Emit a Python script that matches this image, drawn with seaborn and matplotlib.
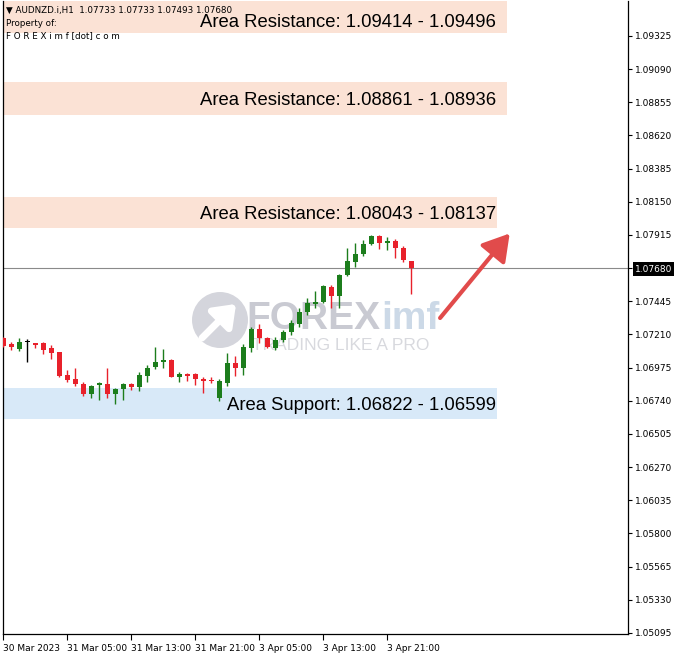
import matplotlib
matplotlib.use("Agg")
import matplotlib.pyplot as plt
import seaborn as sns
import pandas as pd
from matplotlib.patches import Ellipse

# ---------------- data ----------------
bar_index = list(range(52))
opens = [1.07184, 1.07142, 1.07106, 1.07156, 1.07149, 1.07149, 1.07113, 1.07085, 1.06922, 1.06894,
         1.06858, 1.06787, 1.06851, 1.06858, 1.06787, 1.06823, 1.06858, 1.06837, 1.06915, 1.06979,
         1.07014, 1.07028, 1.06908, 1.06929, 1.06929, 1.06894, 1.06890, 1.06759, 1.06865, 1.07007,
         1.06971, 1.07113, 1.07248, 1.07184, 1.07113, 1.07170, 1.07227, 1.07283, 1.07368, 1.07425,
         1.07439, 1.07545, 1.07482, 1.07630, 1.07723, 1.07779, 1.07850, 1.07907, 1.07857, 1.07871,
         1.07822, 1.07733]
closes = [1.07127, 1.07120, 1.07156, 1.07156, 1.07134, 1.07099, 1.07078, 1.06915, 1.06886, 1.06858,
          1.06787, 1.06844, 1.06865, 1.06787, 1.06823, 1.06858, 1.06837, 1.06922, 1.06971, 1.07014,
          1.07028, 1.06908, 1.06929, 1.06915, 1.06894, 1.06879, 1.06879, 1.06879, 1.07007, 1.06971,
          1.07120, 1.07248, 1.07184, 1.07120, 1.07170, 1.07227, 1.07290, 1.07368, 1.07432, 1.07439,
          1.07552, 1.07482, 1.07630, 1.07730, 1.07779, 1.07850, 1.07907, 1.07857, 1.07871, 1.07822,
          1.07737, 1.07680]
highs = [1.07191, 1.07156, 1.07184, 1.07177, 1.07149, 1.07156, 1.07134, 1.07085, 1.06957, 1.06971,
         1.06872, 1.06851, 1.06872, 1.06971, 1.06830, 1.06865, 1.06865, 1.06943, 1.06993, 1.07120,
         1.07106, 1.07035, 1.06943, 1.06936, 1.06936, 1.06908, 1.06908, 1.06894, 1.07078, 1.07057,
         1.07142, 1.07262, 1.07283, 1.07191, 1.07191, 1.07241, 1.07312, 1.07397, 1.07467, 1.07517,
         1.07560, 1.07560, 1.07637, 1.07822, 1.07857, 1.07878, 1.07914, 1.07914, 1.07900, 1.07885,
         1.07836, 1.07733]
lows = [1.07120, 1.07099, 1.07092, 1.07014, 1.07113, 1.07071, 1.07035, 1.06908, 1.06872, 1.06844,
        1.06773, 1.06759, 1.06745, 1.06759, 1.06716, 1.06745, 1.06816, 1.06809, 1.06872, 1.06964,
        1.06971, 1.06905, 1.06872, 1.06879, 1.06851, 1.06794, 1.06865, 1.06738, 1.06844, 1.06915,
        1.06922, 1.07085, 1.07149, 1.07113, 1.07099, 1.07156, 1.07205, 1.07262, 1.07347, 1.07397,
        1.07432, 1.07397, 1.07397, 1.07623, 1.07687, 1.07765, 1.07843, 1.07815, 1.07808, 1.07751,
        1.07723, 1.07493]

xtick_pos = [0, 8, 16, 24, 32, 40, 48]
xtick_labels = ["30 Mar 2023", "31 Mar 05:00", "31 Mar 13:00", "31 Mar 21:00",
                "3 Apr 05:00", "3 Apr 13:00", "3 Apr 21:00"]
ytick_values = [1.05095, 1.05330, 1.05565, 1.05800, 1.06035, 1.06270, 1.06505, 1.06740,
                1.06975, 1.07210, 1.07445, 1.07680, 1.07915, 1.08150, 1.08385, 1.08620,
                1.08855, 1.09090, 1.09325]
current_price = 1.07680

zone_labels = ["Area Resistance: 1.09414 - 1.09496", "Area Resistance: 1.08861 - 1.08936",
               "Area Resistance: 1.08043 - 1.08137", "Area Support: 1.06822 - 1.06599"]
zone_low = [1.09345, 1.08764, 1.07963, 1.06610]
zone_high = [1.09580, 1.08998, 1.08183, 1.06830]
zone_text_y = [1.09420, 1.08870, 1.08060, 1.06705]
zone_right = [63.0, 63.0, 61.7, 61.7]
zone_kind = ["res", "res", "res", "sup"]

header_lines = ["\u25BC AUDNZD.i,H1  1.07733 1.07733 1.07493 1.07680",
                "Property of:",
                "F O R E X i m f [dot] c o m"]

# ---------------- style ----------------
sns.set_theme(style="white")
plt.rcParams["font.family"] = ["DejaVu Sans"]

W, H = 674, 656
fig = plt.figure(figsize=(W / 100, H / 100), dpi=100)
fig.patch.set_facecolor("white")
ax = fig.add_axes([3 / W, 1 - 634 / H, 625 / W, 633 / H])
ax.set_facecolor("white")

def fx(x):
    return x / W

def fy(y):
    return 1 - y / H

df = pd.DataFrame({"i": bar_index, "o": opens, "h": highs, "l": lows, "c": closes})
GREEN, RED, BLACK = "#1c7d1c", "#e8212b", "#000000"
def col(r):
    if r.c > r.o:
        return GREEN
    if r.c < r.o:
        return RED
    return BLACK
df["color"] = df.apply(col, axis=1)
df["bottom"] = df[["o", "c"]].min(axis=1)
df["height"] = (df["c"] - df["o"]).abs().clip(lower=0.00005)

# zones
zone_colors = {"res": "#fbe2d5", "sup": "#d8e9f8"}
for lo, hi, ty, xr, kind, lab in zip(zone_low, zone_high, zone_text_y, zone_right,
                                      zone_kind, zone_labels):
    ax.fill_between([-1, xr], lo, hi, color=zone_colors[kind], lw=0, zorder=1)
    ax.text(61.6, ty, lab, ha="right", va="center", fontsize=13.3,
            family=["Liberation Sans", "DejaVu Sans"], color="black", zorder=6)

# watermark
logo = Ellipse((fx(220), fy(320)), 56 / W, 56 / H, transform=fig.transFigure,
               facecolor="#cdced6", edgecolor="none", alpha=0.85, zorder=0.5)
ax.add_artist(logo)
ax.annotate("", xy=(fx(238), fy(302)), xytext=(fx(200), fy(340)),
            xycoords=fig.transFigure, textcoords=fig.transFigure,
            arrowprops=dict(arrowstyle="-|>,head_length=0.6,head_width=0.45",
                            color="white", lw=5, mutation_scale=20), zorder=0.6)
ax.text(fx(246), fy(319), "FOREX", transform=fig.transFigure, ha="left", va="center",
        fontsize=28, fontweight="bold", family=["Liberation Sans", "DejaVu Sans"],
        color="#c9cad2", zorder=0.5)
ax.text(fx(381), fy(319), "imf", transform=fig.transFigure, ha="left", va="center",
        fontsize=28, fontweight="bold", family=["Liberation Sans", "DejaVu Sans"],
        color="#ccd9e7", zorder=0.5)
ax.text(fx(252), fy(345), "TRADING LIKE A PRO", transform=fig.transFigure, ha="left",
        va="center", fontsize=12.5, family=["Liberation Sans", "DejaVu Sans"],
        color="#d8d9de", zorder=0.5)

# current price line
ax.axhline(current_price, color="#8a8a8a", lw=0.8, zorder=2)

# candles
ax.vlines(df["i"], df["l"], df["h"], colors=df["color"], lw=1.0, zorder=3)
ax.bar(df["i"], df["height"], bottom=df["bottom"], width=0.62, color=df["color"],
       linewidth=0, zorder=4)

# red arrow
ax.annotate("", xy=(63.3, 1.07925), xytext=(54.6, 1.07326),
            arrowprops=dict(arrowstyle="-|>,head_length=1.0,head_width=0.6",
                            color="#e14b4b", lw=3, mutation_scale=16,
                            shrinkA=0, shrinkB=0), zorder=5)

# axes
ax.set_xlim(-0.04, 78.09)
ax.set_ylim(1.05087, 1.09572)
ax.yaxis.tick_right()
ax.set_yticks(ytick_values)
ax.set_yticklabels([f"{v:.5f}" for v in ytick_values])
ax.set_xticks(xtick_pos)
ax.set_xticklabels(xtick_labels, ha="left")
ax.tick_params(axis="y", direction="out", length=3, width=0.8, labelsize=6.5,
               pad=2, colors="black", right=True, left=False)
ax.tick_params(axis="x", direction="out", length=4, width=0.8, labelsize=6.5,
               pad=3, colors="black", bottom=True)
for lab in ax.get_yticklabels():
    if lab.get_text() == f"{current_price:.5f}":
        lab.set_color("white")
        lab.set_bbox(dict(facecolor="black", edgecolor="none", pad=1.6))
for s in ["left", "right", "bottom"]:
    ax.spines[s].set_color("black")
    ax.spines[s].set_linewidth(0.9)
ax.spines["top"].set_visible(False)
ax.grid(False)

# header
for k, line in enumerate(header_lines):
    ax.text(fx(6), fy(10 + 13 * k), line, transform=fig.transFigure, ha="left",
            va="center", fontsize=6.3, color="black", zorder=7)

fig.savefig("out.png", dpi=100)
